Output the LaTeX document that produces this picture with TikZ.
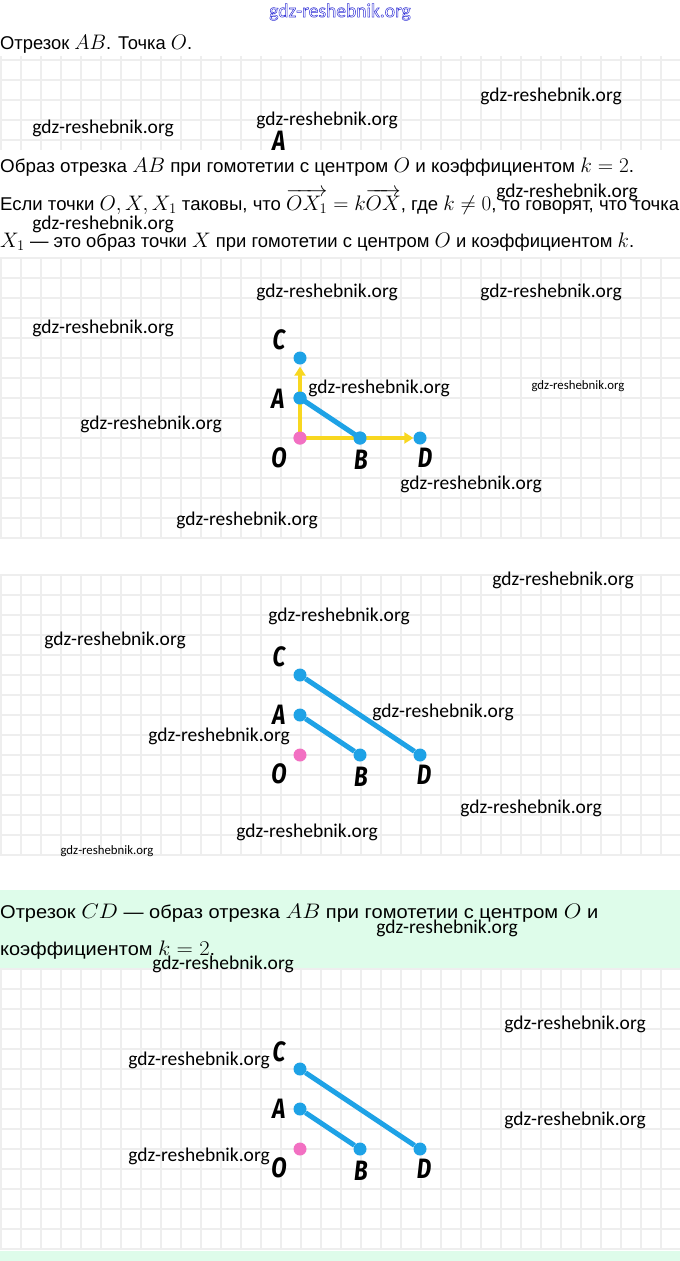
\RequirePackage{fix-cm}
\documentclass[tikz,border=0pt]{standalone}
\usepackage{fontspec}
\setmainfont{Liberation Sans}
\newfontfamily\wmfont{Carlito}
\newfontfamily\lblfont{Fira Sans}
\usetikzlibrary{arrows.meta}
\definecolor{gridc}{RGB}{238,238,238}
\definecolor{ptblue}{RGB}{30,162,230}
\definecolor{ptpink}{RGB}{242,112,194}
\definecolor{arrowy}{RGB}{248,215,32}
\definecolor{mint}{RGB}{222,252,234}
\definecolor{wmblue}{RGB}{50,50,215}
\newcommand{\fitw}[2]{\sbox0{#2}\pgfmathsetmacro\fitsx{#1/\the\wd0}\scalebox{\fitsx}[1]{\usebox0}}
\newcommand{\mm}[1]{{\fontsize{21}{21}\selectfont$#1$}}
\begin{document}
\begin{tikzpicture}[x=1pt,y=-1pt,
  gridline/.style={draw=gridc, line width=1.6pt},
  wm/.style={inner sep=0, text=black, font=\wmfont\fontsize{19.5}{19.5}\selectfont},
  wms/.style={inner sep=0, text=black, font=\wmfont\fontsize{12.8}{12.8}\selectfont},
  txt/.style={anchor=base west, inner sep=0, font=\fontsize{18.5}{18.5}\selectfont},
  lbl/.style={inner sep=0, font=\lblfont\bfseries\itshape\fontsize{28}{28}\selectfont, xscale=0.8},
  bpt/.style={circle, fill=ptblue, minimum size=13pt, inner sep=0},
  ppt/.style={circle, fill=ptpink, minimum size=13pt, inner sep=0},
  seg/.style={draw=ptblue, line width=5pt},
  yarr/.style={draw=arrowy, line width=4pt, -{Triangle[length=9pt,width=11pt]}},
]
\useasboundingbox (0,0) rectangle (680,1261);
\fill[white] (0,0) rectangle (680,1261);

% ---------- grids ----------
\foreach \gx in {1,21,...,681} \draw[gridline] (\gx,56) -- (\gx,150);
\foreach \k in {0,...,4} \draw[gridline] (0,{60+20*\k}) -- (680,{60+20*\k});
\foreach \top in {258,575,969}{
  \foreach \gx in {1,21,...,681} \draw[gridline] (\gx,\top) -- (\gx,{\top+280});
  \foreach \k in {0,...,14} \draw[gridline] (0,{\top+20*\k}) -- (680,{\top+20*\k});
}

% ---------- green boxes ----------
\fill[mint] (0,890) rectangle (680,968);
\fill[mint] (0,1251) rectangle (680,1261);

% ---------- texts ----------
\node[txt] (t1) at (0,49) {\fitw{192}{Отрезок \mm{AB}. Точка \mm{O}.}};
\node[txt] (t2) at (0,172) {\fitw{634}{Образ отрезка \mm{AB} при гомотетии с центром \mm{O} и коэффициентом \mm{k=2}.}};
\node[txt] (t3) at (0,210) {\fitw{679}{Если точки \mm{O, X, X_1} таковы, что \mm{\overrightarrow{OX_1} = k\overrightarrow{OX}}, где \mm{k \neq 0}, то говорят, что точка}};
\node[txt] (t4) at (0,247) {\fitw{634}{\mm{X_1} — это образ точки \mm{X} при гомотетии с центром \mm{O} и коэффициентом \mm{k}.}};
\node[txt] (g1) at (0,918) {\fitw{598}{Отрезок \mm{CD} — образ отрезка \mm{AB} при гомотетии с центром \mm{O} и}};
\node[txt] (g2) at (0,955) {\fitw{215}{коэффициентом \mm{k = 2}.}};

% ---------- figure 1 (cropped) ----------
\begin{scope}
\clip (0,56) rectangle (680,151);
\node[lbl] (la1) at (279,141) {A};
\end{scope}

% ---------- figure 2 ----------
\node[bpt] (c2) at (300,358) {};
\node[bpt] (a2) at (300,398) {};
\node[ppt] (o2) at (300,438) {};
\node[bpt] (b2) at (360,438) {};
\node[bpt] (d2) at (420,438) {};
\draw[yarr, shorten >=2pt] (o2.center) -- (c2);
\draw[yarr] (o2.center) -- (d2);
\draw[seg] (a2.center) -- (b2.center);
\node[ppt] at (o2) {};
\node[bpt] at (a2) {};
\node[bpt] at (b2) {};
\node[lbl] (lc2) at (279,340) {C};
\node[lbl] (la2) at (278,399) {A};
\node[lbl] (lo2) at (279,458) {O};
\node[lbl] (lb2) at (361,460) {B};
\node[lbl] (ld2) at (425,458) {D};

% ---------- figure 3 ----------
\node[bpt] (c3) at (300,675) {};
\node[bpt] (a3) at (300,715) {};
\node[ppt] (o3) at (300,755) {};
\node[bpt] (b3) at (360,755) {};
\node[bpt] (d3) at (420,755) {};
\draw[seg] (a3) -- (b3);
\draw[seg] (c3) -- (d3);
\node[lbl] (lc3) at (279,657) {C};
\node[lbl] (la3) at (279,715) {A};
\node[lbl] (lo3) at (279,774) {O};
\node[lbl] (lb3) at (361,777) {B};
\node[lbl] (ld3) at (424,775) {D};

% ---------- figure 4 ----------
\node[bpt] (c4) at (300,1069) {};
\node[bpt] (a4) at (300,1109) {};
\node[ppt] (o4) at (300,1149) {};
\node[bpt] (b4) at (360,1149) {};
\node[bpt] (d4) at (420,1149) {};
\draw[seg] (a4) -- (b4);
\draw[seg] (c4) -- (d4);
\node[lbl] (lc4) at (279,1052) {C};
\node[lbl] (la4) at (279,1109) {A};
\node[lbl] (lo4) at (279,1168) {O};
\node[lbl] (lb4) at (361,1171) {B};
\node[lbl] (ld4) at (424,1169) {D};

% ---------- watermarks ----------
\node[inner sep=0, text=wmblue, font=\wmfont\fontsize{19.5}{19.5}\selectfont] (w0) at (340,12) {\special{pdf:literal direct 1 Tr 0.5 w}gdz-reshebnik.org\special{pdf:literal direct 0 Tr}};
\node[wm] (w1) at (551,96) {gdz-reshebnik.org};
\node[wm] (w2) at (103,128) {gdz-reshebnik.org};
\node[wm] (w3) at (327,120) {gdz-reshebnik.org};
\node[wm] (w4) at (567,192) {gdz-reshebnik.org};
\node[wm] (w5) at (103,224) {gdz-reshebnik.org};
\node[wm] (w6) at (327,292) {gdz-reshebnik.org};
\node[wm] (w7) at (551,292) {gdz-reshebnik.org};
\node[wm] (w8) at (103,328) {gdz-reshebnik.org};
\node[wm] (w9) at (379,388) {gdz-reshebnik.org};
\node[wms] (w10) at (578,386) {gdz-reshebnik.org};
\node[wm] (w11) at (151,424) {gdz-reshebnik.org};
\node[wm] (w12) at (471,484) {gdz-reshebnik.org};
\node[wm] (w13) at (247,520) {gdz-reshebnik.org};
\node[wm] (w14) at (563,580) {gdz-reshebnik.org};
\node[wm] (w15) at (339,616) {gdz-reshebnik.org};
\node[wm] (w16) at (115,640) {gdz-reshebnik.org};
\node[wm] (w17) at (443,712) {gdz-reshebnik.org};
\node[wm] (w18) at (219,736) {gdz-reshebnik.org};
\node[wm] (w19) at (531,808) {gdz-reshebnik.org};
\node[wm] (w20) at (307,832) {gdz-reshebnik.org};
\node[wms] (w21) at (107,851) {gdz-reshebnik.org};
\node[wm] (w22) at (447,928) {gdz-reshebnik.org};
\node[wm] (w23) at (223,964) {gdz-reshebnik.org};
\node[wm] (w24) at (575,1024) {gdz-reshebnik.org};
\node[wm] (w25) at (199,1060) {gdz-reshebnik.org};
\node[wm] (w26) at (575,1120) {gdz-reshebnik.org};
\node[wm] (w27) at (199,1156) {gdz-reshebnik.org};
\end{tikzpicture}
\end{document}
